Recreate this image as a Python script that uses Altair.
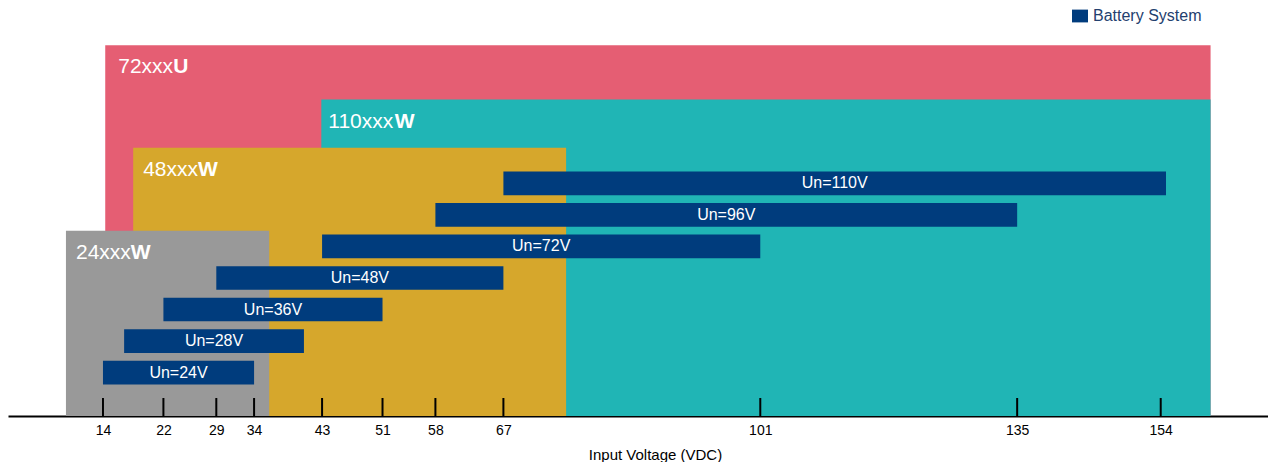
import altair as alt
import pandas as pd

# ---- data ----
tick_values = [14, 22, 29, 34, 43, 51, 58, 67, 101, 135, 154]

family_names = ["72xxx", "110xxx", "48xxx", "24xxx"]
family_suffix = ["U", "W", "W", "W"]
family_start = [14.3, 42.9, 18.0, 9.1]
family_end = [160.6, 160.6, 75.3, 36.0]
family_top = [11.75, 10.03, 8.5, 5.87]
family_colors = ["#E55E73", "#20B5B5", "#D6A72C", "#999999"]

bar_labels = ["Un=24V", "Un=28V", "Un=36V", "Un=48V", "Un=72V", "Un=96V", "Un=110V"]
bar_start = [14, 16.8, 22, 29, 43, 58, 67]
bar_end = [34, 40.6, 51, 67, 101, 135, 154.7]
bar_row = [1, 2, 3, 4, 5, 6, 7]

NAVY = "#003C7D"
FONT = "Liberation Sans"

xscale = alt.Scale(domain=[1.43, 168.2], nice=False, zero=False)
yscale = alt.Scale(domain=[0, 12.9], nice=False, zero=False)

fam = pd.DataFrame({
    "name": family_names, "suffix": family_suffix,
    "start": family_start, "end": family_end,
    "top": family_top, "color": family_colors,
})
fam["bottom"] = 0.0

bars = pd.DataFrame({
    "label": bar_labels, "start": bar_start, "end": bar_end, "row": bar_row,
})
bars["y0"] = bars["row"].astype(float)
bars["y1"] = bars["row"] + 0.75
bars["ymid"] = bars["row"] + 0.375
bars["xmid"] = (bars["start"] + bars["end"]) / 2
bars["series"] = "Battery System"

ticks = pd.DataFrame({"v": tick_values})
ticks["y0"] = 0.0
ticks["y1"] = 0.57

x_axis = alt.Axis(
    values=tick_values, ticks=False, grid=False, domainColor="black",
    domainWidth=2, labelFontSize=14, labelColor="black", labelFont=FONT,
    labelPadding=7, title="Input Voltage (VDC)", titleFont=FONT,
    titleFontSize=15, titleFontWeight="normal", titleColor="black",
    titlePadding=10, titleX=647,
)

rects = alt.Chart(fam).mark_rect().encode(
    x=alt.X("start:Q", scale=xscale, axis=x_axis),
    x2="end:Q",
    y=alt.Y("top:Q", scale=yscale, axis=None),
    y2="bottom:Q",
    color=alt.Color("color:N", scale=None),
)

layers = [rects]

label_dx = [13, 7, 10, 10]
label_w = [54.9, 66.5, 54.9, 54.9]
for i in range(len(family_names)):
    sub = fam.iloc[[i]]
    base = alt.Chart(sub)
    layers.append(base.mark_text(
        align="left", baseline="alphabetic", dx=label_dx[i], dy=28,
        fontSize=21, font=FONT, color="white",
    ).encode(x=alt.X("start:Q", scale=xscale), y=alt.Y("top:Q", scale=yscale), text="name:N"))
    layers.append(base.mark_text(
        align="left", baseline="alphabetic", dx=label_dx[i] + label_w[i], dy=28,
        fontSize=21, font=FONT, color="white", fontWeight="bold",
    ).encode(x=alt.X("start:Q", scale=xscale), y=alt.Y("top:Q", scale=yscale), text="suffix:N"))

bar_layer = alt.Chart(bars).mark_rect().encode(
    x=alt.X("start:Q", scale=xscale),
    x2="end:Q",
    y=alt.Y("y0:Q", scale=yscale),
    y2="y1:Q",
    color=alt.Color(
        "series:N", scale=alt.Scale(range=[NAVY]),
        legend=alt.Legend(
            title=None, orient="none", legendX=1064, legendY=-1,
            symbolType="M-1,-0.8H1V0.8H-1Z", symbolSize=256,
            symbolStrokeWidth=0, symbolOpacity=1,
            labelFont=FONT, labelFontSize=16, labelColor="#23406E",
            labelOffset=5, padding=0, labelBaseline="middle",
        ),
    ),
)
layers.append(bar_layer)

bar_text = alt.Chart(bars).mark_text(
    align="center", baseline="middle", fontSize=16, font=FONT, color="white",
).encode(
    x=alt.X("xmid:Q", scale=xscale),
    y=alt.Y("ymid:Q", scale=yscale),
    text="label:N",
)
layers.append(bar_text)

tick_rules = alt.Chart(ticks).mark_rule(color="black", strokeWidth=2).encode(
    x=alt.X("v:Q", scale=xscale),
    y=alt.Y("y0:Q", scale=yscale),
    y2="y1:Q",
)
layers.append(tick_rules)

chart = alt.layer(*layers).properties(
    width=1260, height=407, background="white",
    padding={"left": 0, "right": 0, "top": 0, "bottom": 0},
).configure_view(stroke=None, strokeWidth=0)

chart.save("out.html", embed_options={"renderer": "svg", "actions": False})
